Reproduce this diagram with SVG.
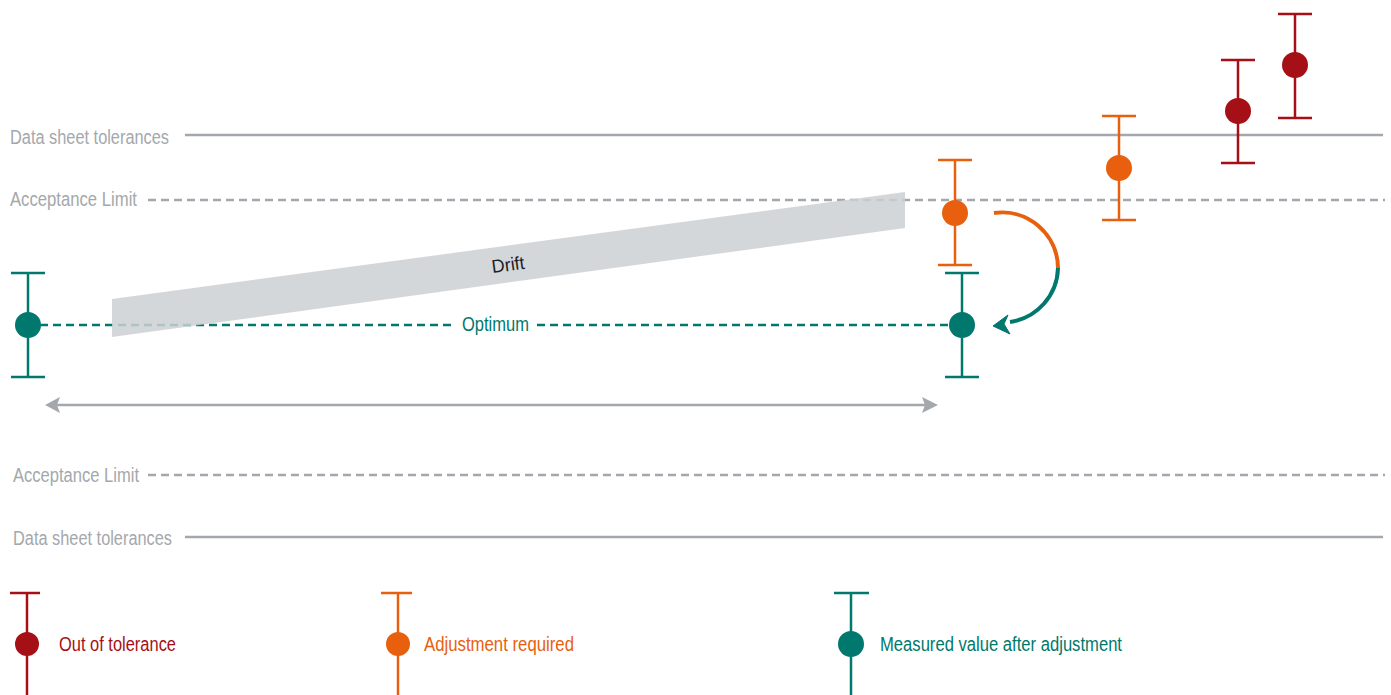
<svg xmlns="http://www.w3.org/2000/svg" width="1391" height="695" viewBox="0 0 1391 695">
<style>
.lbl{font-family:"Liberation Sans",Arial,sans-serif;font-size:19.5px;fill:#a4a8ac}
.leg{font-family:"Liberation Sans",Arial,sans-serif;font-size:19.5px}
.solid{stroke:#a4a8ac;stroke-width:2.5;fill:none}
.dash{stroke:#a4a8ac;stroke-width:2.5;stroke-dasharray:8 5;fill:none}
.red{stroke:#a50f16;fill:#a50f16}
.org{stroke:#e8600e;fill:#e8600e}
.teal{stroke:#00786e;fill:#00786e}
.bar line{stroke-width:2.5}
</style>
<rect width="1391" height="695" fill="#ffffff"/>
<g id="limits">
<text class="lbl" x="10" y="144" textLength="159" lengthAdjust="spacingAndGlyphs">Data sheet tolerances</text>
<line class="solid" x1="185" y1="135" x2="1383" y2="135"/>
<text class="lbl" x="10" y="206" textLength="127" lengthAdjust="spacingAndGlyphs">Acceptance Limit</text>
<line class="dash" x1="148" y1="200" x2="1385" y2="200"/>
<text class="lbl" x="13" y="482" textLength="126" lengthAdjust="spacingAndGlyphs">Acceptance Limit</text>
<line class="dash" x1="148" y1="475" x2="1385" y2="475"/>
<text class="lbl" x="13" y="545" textLength="159" lengthAdjust="spacingAndGlyphs">Data sheet tolerances</text>
<line class="solid" x1="185" y1="537" x2="1383" y2="537"/>
</g>
<g id="optimum">
<line x1="40" y1="325" x2="455" y2="325" stroke="#00786e" stroke-width="2.5" stroke-dasharray="8 5"/>
<line x1="537" y1="325" x2="950" y2="325" stroke="#00786e" stroke-width="2.5" stroke-dasharray="8 5"/>
<text x="462" y="331" class="leg" fill="#00786e" textLength="67" lengthAdjust="spacingAndGlyphs">Optimum</text>
</g>
<g id="drift">
<polygon points="112,299 905,192 905,228 112,337" fill="#cdd0d4" fill-opacity="0.85"/>
<text x="508" y="271" text-anchor="middle" transform="rotate(-7.5 508 264)" style="font-family:'Liberation Sans',Arial,sans-serif;font-size:18.5px;fill:#1e1e1e" textLength="33" lengthAdjust="spacingAndGlyphs">Drift</text>
</g>
<g id="connectors">
<line x1="55" y1="405" x2="928" y2="405" stroke="#a4a8ac" stroke-width="2.5"/>
<polygon points="45,405 60,397 57,405 60,413" fill="#a4a8ac"/>
<polygon points="938,405 922,397 925,405 922,413" fill="#a4a8ac"/>
<path d="M994,213 A56,56 0 0 1 1058,268" fill="none" stroke="#e8600e" stroke-width="4"/>
<path d="M1058,268 A56,56 0 0 1 1010,322" fill="none" stroke="#00786e" stroke-width="4"/>
<polygon points="993,326 1008,315 1004,324 1010,334" fill="#00786e" stroke="#00786e" stroke-width="1"/>
</g>
<g id="teal-left" class="bar teal">
<line x1="28" y1="273" x2="28" y2="377"/><line x1="11" y1="273" x2="45" y2="273"/><line x1="11" y1="377" x2="45" y2="377"/>
<circle cx="28" cy="325" r="13" stroke="none"/>
</g>
<g id="teal-right" class="bar teal">
<line x1="962" y1="273" x2="962" y2="377"/><line x1="945" y1="273" x2="979" y2="273"/><line x1="945" y1="377" x2="979" y2="377"/>
<circle cx="962" cy="325" r="13" stroke="none"/>
</g>
<g id="orange-1" class="bar org">
<line x1="955" y1="160" x2="955" y2="265"/><line x1="938" y1="160" x2="972" y2="160"/><line x1="938" y1="265" x2="972" y2="265"/>
<circle cx="955" cy="213" r="13" stroke="none"/>
</g>
<g id="orange-2" class="bar org">
<line x1="1119" y1="116" x2="1119" y2="220"/><line x1="1102" y1="116" x2="1136" y2="116"/><line x1="1102" y1="220" x2="1136" y2="220"/>
<circle cx="1119" cy="168" r="13" stroke="none"/>
</g>
<g id="red-1" class="bar red">
<line x1="1238" y1="60" x2="1238" y2="163"/><line x1="1221" y1="60" x2="1255" y2="60"/><line x1="1221" y1="163" x2="1255" y2="163"/>
<circle cx="1238" cy="111" r="13" stroke="none"/>
</g>
<g id="red-2" class="bar red">
<line x1="1295" y1="14" x2="1295" y2="118"/><line x1="1278" y1="14" x2="1312" y2="14"/><line x1="1278" y1="118" x2="1312" y2="118"/>
<circle cx="1295" cy="65" r="13" stroke="none"/>
</g>
<g id="legend-red" class="bar red">
<line x1="27" y1="593" x2="27" y2="695"/><line x1="10" y1="593" x2="40" y2="593"/>
<circle cx="27" cy="644" r="12" stroke="none"/>
<text x="59" y="651" class="leg" stroke="none" textLength="117" lengthAdjust="spacingAndGlyphs">Out of tolerance</text>
</g>
<g id="legend-orange" class="bar org">
<line x1="398" y1="593" x2="398" y2="695"/><line x1="381" y1="593" x2="412" y2="593"/>
<circle cx="398" cy="644" r="12" stroke="none"/>
<text x="424" y="651" class="leg" stroke="none" textLength="150" lengthAdjust="spacingAndGlyphs">Adjustment required</text>
</g>
<g id="legend-teal" class="bar teal">
<line x1="851" y1="593" x2="851" y2="695"/><line x1="834" y1="593" x2="869" y2="593"/>
<circle cx="851" cy="644" r="13" stroke="none"/>
<text x="880" y="651" class="leg" stroke="none" textLength="242" lengthAdjust="spacingAndGlyphs">Measured value after adjustment</text>
</g>
</svg>
